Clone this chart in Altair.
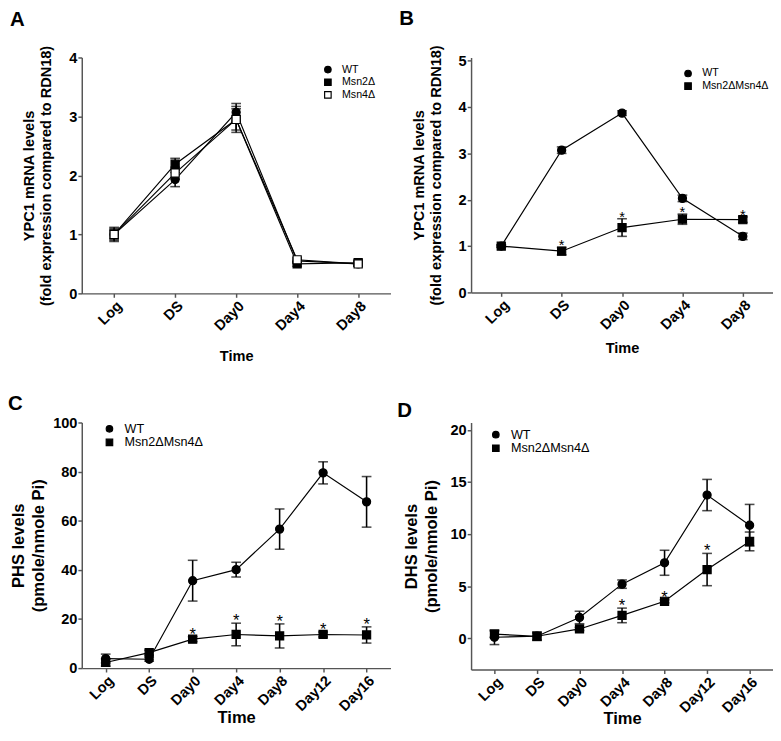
import altair as alt
import pandas as pd

FONT = "Liberation Sans"

# ---------------- Panel A ----------------
a_times = ["Log", "DS", "Day0", "Day4", "Day8"]
a_series = ["WT", "Msn2Δ", "Msn4Δ"]
a_wt = [1.00, 1.93, 3.07, 0.55, 0.50]
a_wt_err = [0.12, 0.12, 0.15, 0.04, 0.04]
a_msn2 = [1.00, 2.19, 2.95, 0.50, 0.52]
a_msn2_err = [0.10, 0.10, 0.22, 0.04, 0.04]
a_msn4 = [1.00, 2.04, 2.95, 0.57, 0.50]
a_msn4_err = [0.08, 0.10, 0.18, 0.04, 0.04]

# ---------------- Panel B ----------------
b_times = ["Log", "DS", "Day0", "Day4", "Day8"]
b_series = ["WT", "Msn2ΔMsn4Δ"]
b_wt = [1.00, 3.07, 3.87, 2.03, 1.21]
b_wt_err = [0.03, 0.07, 0.05, 0.07, 0.07]
b_dbl = [1.00, 0.89, 1.40, 1.58, 1.57]
b_dbl_err = [0.02, 0.08, 0.19, 0.11, 0.06]
b_sig = [False, True, True, True, True]

# ---------------- Panel C ----------------
c_times = ["Log", "DS", "Day0", "Day4", "Day8", "Day12", "Day16"]
c_series = ["WT", "Msn2ΔMsn4Δ"]
c_wt = [3.9, 3.6, 35.6, 40.1, 56.6, 79.5, 67.7]
c_wt_err = [1.8, 0.8, 8.3, 3.0, 8.2, 4.5, 10.3]
c_dbl = [2.3, 6.3, 11.8, 13.7, 13.1, 13.7, 13.5]
c_dbl_err = [1.5, 1.0, 1.0, 4.6, 4.9, 1.0, 3.3]
c_sig = [False, False, True, True, True, True, True]

# ---------------- Panel D ----------------
d_times = ["Log", "DS", "Day0", "Day4", "Day8", "Day12", "Day16"]
d_series = ["WT", "Msn2ΔMsn4Δ"]
d_wt = [0.1, 0.2, 2.0, 5.2, 7.25, 13.75, 10.85]
d_wt_err = [0.7, 0.4, 0.6, 0.4, 1.2, 1.5, 2.0]
d_dbl = [0.4, 0.2, 0.9, 2.2, 3.55, 6.6, 9.3]
d_dbl_err = [0.3, 0.3, 0.15, 0.7, 0.15, 1.55, 0.9]
d_sig = [False, False, False, True, True, True, False]


def make_df(times, names, values, errs, sigs):
    rows = []
    for s, vals, es, sg in zip(names, values, errs, sigs):
        for t, v, e, g in zip(times, vals, es, sg):
            rows.append({"time": t, "series": s, "value": v,
                         "lo": v - e, "hi": v + e, "sig": g})
    return pd.DataFrame(rows)


def panel(df, times, series, shapes, fills, ydom, yticks, w, h, pad,
          ytitle, ytsize, ytlh, ytpad, xtsize, xtpad,
          label, t_off, t_dx, lx, ly, lfont, lrow, star, star_dy):
    x = alt.X("time:N", sort=times,
              scale=alt.Scale(type="point", padding=pad),
              axis=alt.Axis(title="Time", labelAngle=-45, titleFontSize=xtsize,
                            titlePadding=xtpad))
    ys = alt.Scale(domain=ydom, nice=False, zero=False)
    yax = alt.Axis(title=ytitle, values=yticks, titleFontSize=ytsize,
                   titleLineHeight=ytlh, titlePadding=ytpad)
    leg = alt.Legend(title=None, orient="none", legendX=lx, legendY=ly,
                     labelFont=FONT, labelFontSize=lfont, labelFontWeight="normal",
                     labelColor="black", symbolSize=45, symbolStrokeWidth=1.2,
                     rowPadding=lrow, labelOffset=9, padding=0)
    base = alt.Chart(df)
    lines = base.mark_line(color="black", strokeWidth=1.2).encode(
        x=x, y=alt.Y("value:Q", scale=ys, axis=yax), detail="series:N")
    rules = base.mark_rule(color="black", strokeWidth=1.6).encode(
        x=x, y=alt.Y("lo:Q", scale=ys, axis=yax), y2="hi:Q")
    cap_lo = base.mark_tick(color="black", thickness=1.6, size=10).encode(
        x=x, y=alt.Y("lo:Q", scale=ys, axis=yax))
    cap_hi = base.mark_tick(color="black", thickness=1.6, size=10).encode(
        x=x, y=alt.Y("hi:Q", scale=ys, axis=yax))
    pts = base.mark_point(filled=True, size=70, strokeWidth=1.2,
                          opacity=1).encode(
        x=x, y=alt.Y("value:Q", scale=ys, axis=yax),
        shape=alt.Shape("series:N", scale=alt.Scale(domain=series, range=shapes),
                        legend=leg),
        fill=alt.Fill("series:N", scale=alt.Scale(domain=series, range=fills),
                      legend=leg),
        stroke=alt.Stroke("series:N",
                          scale=alt.Scale(domain=series,
                                          range=["black"] * len(series)),
                          legend=leg),
    )
    stars = base.transform_filter("datum.sig").mark_text(
        text="*", fontSize=star, font=FONT, color="black", baseline="middle",
        dy=star_dy).encode(x=x, y=alt.Y("hi:Q", scale=ys, axis=yax))
    return alt.layer(lines, rules, cap_lo, cap_hi, pts, stars).properties(
        width=w, height=h,
        title=alt.TitleParams(text=label, anchor="start", frame="group", dx=t_dx,
                              offset=t_off, fontSize=21, font=FONT,
                              fontWeight="bold", color="black"))


dfA = make_df(a_times, a_series, [a_wt, a_msn2, a_msn4],
              [a_wt_err, a_msn2_err, a_msn4_err], [[False] * 5] * 3)
dfB = make_df(b_times, b_series, [b_wt, b_dbl], [b_wt_err, b_dbl_err],
              [[False] * 5, b_sig])
dfC = make_df(c_times, c_series, [c_wt, c_dbl], [c_wt_err, c_dbl_err],
              [[False] * 7, c_sig])
dfD = make_df(d_times, d_series, [d_wt, d_dbl], [d_wt_err, d_dbl_err],
              [[False] * 7, d_sig])

ytA = ["YPC1 mRNA levels", "(fold expression compared to RDN18)"]

pA = panel(dfA, a_times, a_series, ["circle", "square", "square"],
           ["black", "black", "white"], [0, 4], [0, 1, 2, 3, 4], 318, 243, 0.53,
           ytA, 15, 17.5, 16, 15, 16, "A", 16, -74, 248, 7, 11, 0, 15, -2)
pB = panel(dfB, b_times, b_series, ["circle", "square"], ["black", "black"],
           [0, 5.07], [0, 1, 2, 3, 4, 5], 311, 242, 0.5,
           ytA, 15, 17.5, 15, 15, 9, "B", 16, -74, 218, 11, 11, 0, 15, -2)
pC = panel(dfC, c_times, c_series, ["circle", "square"], ["black", "black"],
           [0, 100], [0, 20, 40, 60, 80, 100], 318, 253, 0.55,
           ["PHS levels", "(pmole/nmole Pi)"], 17, 21, 5, 17, -4,
           "C", 2, -76, 22, 0, 13, 0, 17, -2)
pD = panel(dfD, d_times, d_series, ["circle", "square"], ["black", "black"],
           [-3, 20.71], [0, 5, 10, 15, 20], 311, 254.5, 0.55,
           ["DHS levels", "(pmole/nmole Pi)"], 17, 21, 10, 17, -4,
           "D", 2, -76, 19, 6, 13, 0, 17, -2)

chart = alt.concat(pA, pB, pC, pD, columns=2,
                   spacing={"row": 31, "column": 7}).resolve_scale(
    shape="independent", fill="independent", stroke="independent"
).resolve_legend(
    shape="independent", fill="independent", stroke="independent"
).properties(
    padding={"left": 0, "top": -11, "right": 0, "bottom": 0}
).configure_axis(
    domainColor="#555555", domainWidth=1.5, tickColor="#555555", tickWidth=1.5,
    tickSize=4, labelFont=FONT, labelFontWeight="bold", labelFontSize=15,
    labelColor="black", labelPadding=1, titleFont=FONT, titleFontWeight="bold",
    titleColor="black", grid=False
).configure_view(stroke=None)

chart.save("out.html", embed_options={"renderer": "svg", "actions": False})
